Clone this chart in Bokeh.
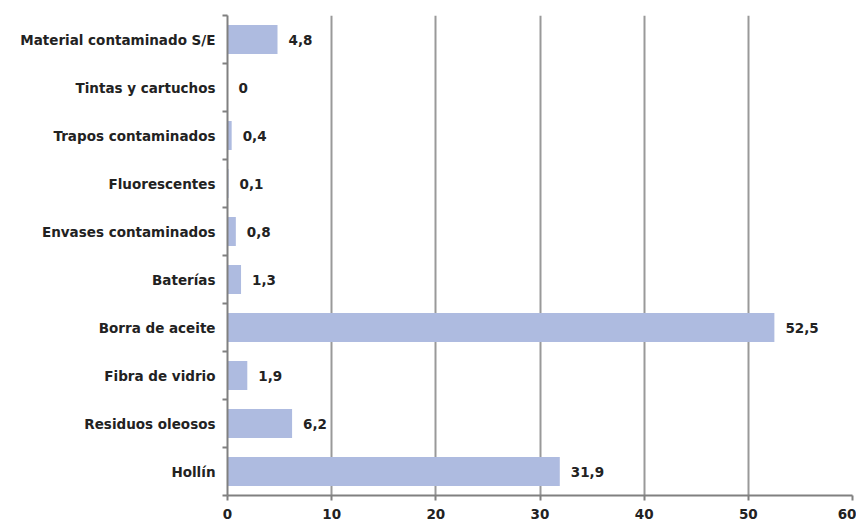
from bokeh.plotting import figure
from bokeh.models import ColumnDataSource, FixedTicker, Range1d
from bokeh.core.properties import value
from bokeh.embed import file_html
from bokeh.resources import INLINE

categories = ["Material contaminado S/E", "Tintas y cartuchos", "Trapos contaminados",
              "Fluorescentes", "Envases contaminados", "Baterías", "Borra de aceite",
              "Fibra de vidrio", "Residuos oleosos", "Hollín"]
values = [4.8, 0, 0.4, 0.1, 0.8, 1.3, 52.5, 1.9, 6.2, 31.9]
x_ticks = [0, 10, 20, 30, 40, 50, 60]

n = len(categories)
pos = [n - 1 - i + 0.5 for i in range(n)]
labels = [("%g" % v).replace(".", ",") for v in values]
src = ColumnDataSource(dict(cat=categories, val=values, y=pos, lab=labels))

FONT = "DejaVu Sans"
FS = "13.5px"

p = figure(width=856, height=521, output_backend="svg", toolbar_location=None,
           x_range=Range1d(0, 60), y_range=Range1d(0, n),
           min_border_left=227, min_border_right=4, min_border_top=15, min_border_bottom=26)
p.outline_line_color = None
p.background_fill_color = "white"

p.hbar(y="y", right="val", left=0, height=0.6, source=src,
       fill_color="#aebbe0", line_color=None)
p.text(x="val", y="y", text="lab", source=src, x_offset=11,
       text_baseline="middle", text_align="left", text_font=value(FONT),
       text_font_style="bold", text_font_size=FS, text_color="#222222")

# x axis
p.xaxis.ticker = FixedTicker(ticks=x_ticks)
p.xaxis.axis_line_color = "#808080"
p.xaxis.axis_line_width = 2
p.xaxis.major_tick_line_color = "#808080"
p.xaxis.major_tick_line_width = 2
p.xaxis.major_tick_in = 0
p.xaxis.major_tick_out = 5
p.xaxis.minor_tick_line_color = None
p.xaxis.major_label_text_font = FONT
p.xaxis.major_label_text_font_style = "bold"
p.xaxis.major_label_text_font_size = FS
p.xaxis.major_label_text_color = "#222222"
p.xaxis.major_label_standoff = 8

# y axis: labels at centres, ticks at boundaries
p.yaxis.ticker = FixedTicker(ticks=pos, minor_ticks=[float(i) for i in range(n + 1)])
p.yaxis.major_label_overrides = {pv: c for pv, c in zip(pos, categories)}
p.yaxis.major_tick_line_color = None
p.yaxis.minor_tick_line_color = "#808080"
p.yaxis.minor_tick_line_width = 2
p.yaxis.minor_tick_in = 0
p.yaxis.minor_tick_out = 5
p.yaxis.axis_line_color = "#808080"
p.yaxis.axis_line_width = 2
p.yaxis.major_label_text_font = FONT
p.yaxis.major_label_text_font_style = "bold"
p.yaxis.major_label_text_font_size = FS
p.yaxis.major_label_text_color = "#222222"
p.yaxis.major_label_standoff = 6

p.xgrid.ticker = FixedTicker(ticks=x_ticks[1:])
p.xgrid.grid_line_color = "#999999"
p.xgrid.grid_line_width = 2
p.ygrid.grid_line_color = None

open("out.html", "w").write(file_html(p, INLINE))
